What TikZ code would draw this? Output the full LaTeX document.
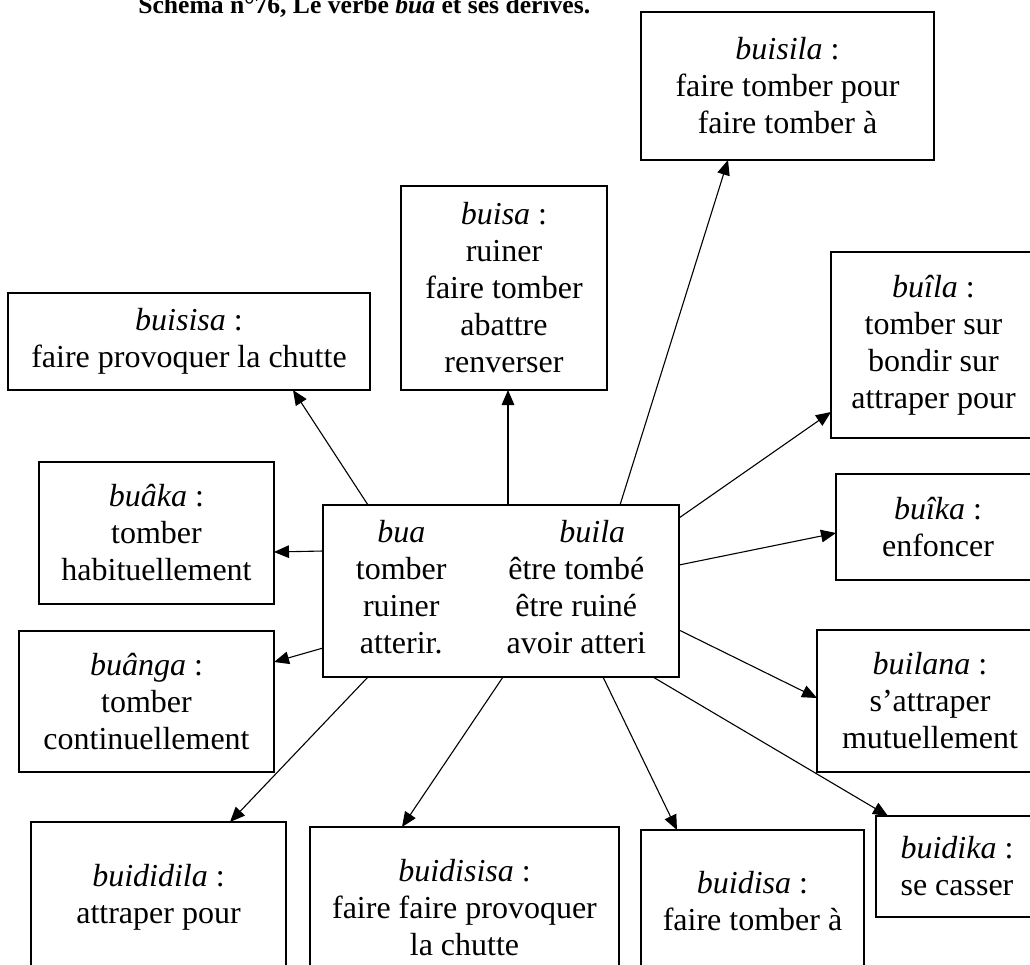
\documentclass[tikz,border=0pt]{standalone}
\usepackage{fontspec}
\setmainfont{Liberation Serif}
\usetikzlibrary{arrows.meta}
\tikzset{
    dbox/.style={
        draw=black, line width=1.15pt, fill=white,
        font=\fontsize{16}{18.5}\selectfont, align=center,
        inner sep=0pt, outer sep=0pt
    },
    rootbox/.style={dbox},
    link/.style={
        -{Triangle[length=7.5pt, width=6.3pt]},
        line width=0.55pt, draw=black
    },
    ttl/.style={
        font=\fontsize{12.8}{15}\selectfont\bfseries,
        inner sep=0pt, anchor=base west
    },
}

\begin{document}
\begin{tikzpicture}[x=0.5pt, y=-0.5pt]
\path[use as bounding box, fill=white] (0,0) rectangle (1030,965);

% ---- Title (cut at the top) ----
\node[ttl] (ttl) at (138,13) {Schéma n°76, Le verbe \textit{bua} et ses dérivés.};

% ---- Root verb ----
\node[rootbox, minimum width=178pt, minimum height=86pt] (v-bua) at (501,591)
    {\begin{tabular}{@{}c@{\hspace{30pt}}c@{}}
        \textit{bua} & \hspace{16pt}\textit{buila}\\
        tomber & être tombé\\
        ruiner & être ruiné\\
        atterir. & avoir atteri
     \end{tabular}};

% ---- Derived forms, top row ----
\node[dbox, minimum width=146.5pt, minimum height=74pt] (d-buisila) at (787.5,86)
    {\textit{buisila} :\\faire tomber pour\\faire tomber à};
\node[dbox, minimum width=103pt, minimum height=102pt] (d-buisa) at (504,288)
    {\textit{buisa} :\\ruiner\\faire tomber\\abattre\\renverser};
\node[dbox, minimum width=181pt, minimum height=48.5pt] (d-buisisa) at (189,341.5)
    {\textit{buisisa} :\\faire provoquer la chutte};

% ---- Derived forms, left side ----
\node[dbox, minimum width=117.5pt, minimum height=71pt] (d-buaka) at (156.5,533)
    {\textit{buâka} :\\tomber\\habituellement};
\node[dbox, minimum width=127.5pt, minimum height=70.5pt] (d-buanga) at (146.5,701.5)
    {\textit{buânga} :\\tomber\\continuellement};

% ---- Derived forms, right side ----
\node[dbox, minimum width=102.5pt, minimum height=93pt] (d-buila) at (933.5,345)
    {\textit{buîla} :\\tomber sur\\bondir sur\\attraper pour};
\node[dbox, minimum width=102pt, minimum height=53pt] (d-buika) at (938,527)
    {\textit{buîka} :\\enfoncer};
\node[dbox, minimum width=113pt, minimum height=71pt] (d-builana) at (930,701)
    {\textit{builana} :\\s’attraper\\mutuellement};

% ---- Derived forms, bottom row ----
\node[dbox, minimum width=127.5pt, minimum height=75pt] (d-buididila) at (158.5,897)
    {\textit{buididila} :\\attraper pour};
\node[dbox, minimum width=154.5pt, minimum height=80.5pt] (d-buidisisa) at (464.5,907.5)
    {\textit{buidisisa} :\\faire faire provoquer\\la chutte};
\node[dbox, minimum width=111.5pt, minimum height=71pt] (d-buidisa) at (752.5,901)
    {\textit{buidisa} :\\faire tomber à};
\node[dbox, minimum width=81pt, minimum height=50.5pt] (d-buidika) at (957,866.5)
    {\textit{buidika} :\\se casser};

% ---- Links ----
\draw[link] ([xshift=22.5pt]v-bua.north west) -- ([xshift=52pt]d-buisisa.south);
\draw[link] ([xshift=3.5pt]v-bua.north) -- ([xshift=2pt]d-buisa.south);
\draw[link] ([xshift=59.5pt]v-bua.north) -- ([xshift=-29.75pt]d-buisila.south);
\draw[link] ([yshift=-6.5pt]v-bua.north east) -- ([yshift=13pt]d-buila.south west);
\draw[link] ([yshift=13pt]v-bua.east) -- ([yshift=-3pt]d-buika.west);
\draw[link] ([yshift=-19.5pt]v-bua.east) -- ([yshift=1.5pt]d-builana.west);
\draw[link] ([xshift=-13pt]v-bua.south east) -- ([xshift=6pt]d-buidika.north west);
\draw[link] ([xshift=51pt]v-bua.south) -- ([xshift=18pt]d-buidisa.north west);
\draw[link] ([xshift=1pt]v-bua.south) -- ([xshift=46pt]d-buidisisa.north west);
\draw[link] ([xshift=22.5pt]v-bua.south west) -- ([xshift=35.75pt]d-buididila.north);
\draw[link] ([yshift=20pt]v-bua.west) -- ([yshift=-9.5pt]d-buaka.east);
\draw[link] ([yshift=-28.5pt]v-bua.west) -- ([yshift=19.75pt]d-buanga.east);

\end{tikzpicture}
\end{document}
